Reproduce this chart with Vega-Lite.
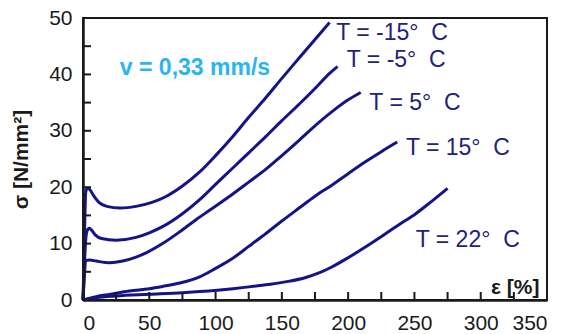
{
  "$schema": "https://vega.github.io/schema/vega-lite/v6.json",
  "width": 464,
  "height": 282,
  "autosize": {"type": "none"},
  "padding": {"left": 83, "top": 18, "right": 14, "bottom": 34},
  "background": "white",
  "config": {
    "view": {"stroke": "#1a1a1a", "strokeWidth": 2},
    "font": "Liberation Sans"
  },
  "datasets": {
    "curves": [
      {"T": "-15", "eps": 0, "sigma": 0},
      {"T": "-15", "eps": 1, "sigma": 10},
      {"T": "-15", "eps": 2, "sigma": 19},
      {"T": "-15", "eps": 3, "sigma": 19.8},
      {"T": "-15", "eps": 5, "sigma": 19.6},
      {"T": "-15", "eps": 8, "sigma": 18.5},
      {"T": "-15", "eps": 12, "sigma": 17.3},
      {"T": "-15", "eps": 18, "sigma": 16.6},
      {"T": "-15", "eps": 28, "sigma": 16.3},
      {"T": "-15", "eps": 40, "sigma": 16.6},
      {"T": "-15", "eps": 52, "sigma": 17.3},
      {"T": "-15", "eps": 63, "sigma": 18.4},
      {"T": "-15", "eps": 75, "sigma": 20.2},
      {"T": "-15", "eps": 88, "sigma": 22.7},
      {"T": "-15", "eps": 100, "sigma": 25.6},
      {"T": "-15", "eps": 113, "sigma": 29},
      {"T": "-15", "eps": 125, "sigma": 32.4},
      {"T": "-15", "eps": 138, "sigma": 35.9},
      {"T": "-15", "eps": 150, "sigma": 39.3},
      {"T": "-15", "eps": 163, "sigma": 42.9},
      {"T": "-15", "eps": 175, "sigma": 46.2},
      {"T": "-15", "eps": 186, "sigma": 49.2},
      {"T": "-5", "eps": 0, "sigma": 0},
      {"T": "-5", "eps": 1, "sigma": 6},
      {"T": "-5", "eps": 2, "sigma": 10.5},
      {"T": "-5", "eps": 3, "sigma": 12.2},
      {"T": "-5", "eps": 4.7, "sigma": 12.7},
      {"T": "-5", "eps": 6, "sigma": 12.5},
      {"T": "-5", "eps": 9, "sigma": 11.6},
      {"T": "-5", "eps": 14, "sigma": 10.9},
      {"T": "-5", "eps": 25, "sigma": 10.6},
      {"T": "-5", "eps": 40, "sigma": 11.1},
      {"T": "-5", "eps": 50, "sigma": 11.9},
      {"T": "-5", "eps": 60, "sigma": 13.0},
      {"T": "-5", "eps": 75, "sigma": 15.3},
      {"T": "-5", "eps": 88, "sigma": 17.8},
      {"T": "-5", "eps": 100, "sigma": 20.5},
      {"T": "-5", "eps": 113, "sigma": 23.4},
      {"T": "-5", "eps": 125, "sigma": 26.1},
      {"T": "-5", "eps": 138, "sigma": 29},
      {"T": "-5", "eps": 150, "sigma": 31.8},
      {"T": "-5", "eps": 163, "sigma": 34.7},
      {"T": "-5", "eps": 175, "sigma": 37.5},
      {"T": "-5", "eps": 186, "sigma": 40.2},
      {"T": "-5", "eps": 192, "sigma": 41.4},
      {"T": "5", "eps": 0, "sigma": 0},
      {"T": "5", "eps": 1, "sigma": 4},
      {"T": "5", "eps": 2, "sigma": 7},
      {"T": "5", "eps": 5, "sigma": 7.1},
      {"T": "5", "eps": 10, "sigma": 6.9},
      {"T": "5", "eps": 20, "sigma": 6.6},
      {"T": "5", "eps": 30, "sigma": 6.9},
      {"T": "5", "eps": 40, "sigma": 7.6},
      {"T": "5", "eps": 48, "sigma": 8.4},
      {"T": "5", "eps": 60, "sigma": 10},
      {"T": "5", "eps": 73, "sigma": 12.1},
      {"T": "5", "eps": 85, "sigma": 14.2},
      {"T": "5", "eps": 96, "sigma": 16},
      {"T": "5", "eps": 113, "sigma": 18.8},
      {"T": "5", "eps": 125, "sigma": 20.9},
      {"T": "5", "eps": 138, "sigma": 23.2},
      {"T": "5", "eps": 150, "sigma": 25.6},
      {"T": "5", "eps": 163, "sigma": 28.3},
      {"T": "5", "eps": 176, "sigma": 31.1},
      {"T": "5", "eps": 190, "sigma": 33.8},
      {"T": "5", "eps": 200, "sigma": 35.5},
      {"T": "5", "eps": 209.5, "sigma": 36.8},
      {"T": "15", "eps": 0, "sigma": 0},
      {"T": "15", "eps": 10, "sigma": 0.6},
      {"T": "15", "eps": 20, "sigma": 1.0},
      {"T": "15", "eps": 35, "sigma": 1.6},
      {"T": "15", "eps": 50, "sigma": 2.0},
      {"T": "15", "eps": 60, "sigma": 2.4},
      {"T": "15", "eps": 73, "sigma": 3.0},
      {"T": "15", "eps": 88, "sigma": 4.1},
      {"T": "15", "eps": 100, "sigma": 5.6},
      {"T": "15", "eps": 113, "sigma": 7.4},
      {"T": "15", "eps": 125, "sigma": 9.5},
      {"T": "15", "eps": 138, "sigma": 11.8},
      {"T": "15", "eps": 150, "sigma": 14},
      {"T": "15", "eps": 163, "sigma": 16.3},
      {"T": "15", "eps": 175, "sigma": 18.4},
      {"T": "15", "eps": 188, "sigma": 20.4},
      {"T": "15", "eps": 200, "sigma": 22.4},
      {"T": "15", "eps": 213, "sigma": 24.5},
      {"T": "15", "eps": 225, "sigma": 26.3},
      {"T": "15", "eps": 237, "sigma": 28},
      {"T": "22", "eps": 0, "sigma": 0},
      {"T": "22", "eps": 10, "sigma": 0.4},
      {"T": "22", "eps": 25, "sigma": 0.7},
      {"T": "22", "eps": 50, "sigma": 1.0},
      {"T": "22", "eps": 75, "sigma": 1.3},
      {"T": "22", "eps": 88, "sigma": 1.5},
      {"T": "22", "eps": 113, "sigma": 2.0},
      {"T": "22", "eps": 138, "sigma": 2.7},
      {"T": "22", "eps": 155, "sigma": 3.3},
      {"T": "22", "eps": 168, "sigma": 4.0},
      {"T": "22", "eps": 178, "sigma": 4.8},
      {"T": "22", "eps": 188, "sigma": 5.9},
      {"T": "22", "eps": 200, "sigma": 7.5},
      {"T": "22", "eps": 213, "sigma": 9.4},
      {"T": "22", "eps": 226, "sigma": 11.4},
      {"T": "22", "eps": 238, "sigma": 13.3},
      {"T": "22", "eps": 251, "sigma": 15.3},
      {"T": "22", "eps": 263, "sigma": 17.5},
      {"T": "22", "eps": 275, "sigma": 19.8}
    ],
    "labels": [
      {"label": "T = -15°\u00a0 C", "eps": 191, "sigma": 47.3},
      {"label": "T = -5°\u00a0 C", "eps": 199, "sigma": 42.6},
      {"label": "T = 5°\u00a0 C", "eps": 216, "sigma": 34.9},
      {"label": "T = 15°\u00a0 C", "eps": 243.6, "sigma": 26.9},
      {"label": "T = 22°\u00a0 C", "eps": 251, "sigma": 10.6}
    ],
    "note": [
      {"label": "v = 0,33 mm/s", "eps": 27.8, "sigma": 41.1}
    ],
    "xticks": [
      {"eps": 25}, {"eps": 50}, {"eps": 75}, {"eps": 100}, {"eps": 125}, {"eps": 150},
      {"eps": 175}, {"eps": 200}, {"eps": 225}, {"eps": 250}, {"eps": 275}, {"eps": 300},
      {"eps": 325}
    ],
    "yticks": [
      {"sigma": 5}, {"sigma": 10}, {"sigma": 15}, {"sigma": 20}, {"sigma": 25},
      {"sigma": 30}, {"sigma": 35}, {"sigma": 40}, {"sigma": 45}
    ]
  },
  "layer": [
    {
      "data": {"name": "curves"},
      "mark": {"type": "line", "color": "#14148a", "strokeWidth": 3, "interpolate": "monotone"},
      "encoding": {
        "x": {
          "field": "eps", "type": "quantitative",
          "scale": {"domain": [0, 350], "nice": false, "zero": true},
          "axis": {
            "values": [0, 50, 100, 150, 200, 250, 300, 350],
            "grid": false,
            "zindex": 1,
            "ticks": false,
            "domainColor": "#1a1a1a",
            "domainWidth": 2.5,
            "labelPadding": 12,
            "labelFontSize": 21,
            "labelColor": "#1a1a1a",
            "labelFlush": 6,
            "title": "ε [%]",
            "titleFontSize": 21,
            "titleFontWeight": "bold",
            "titleColor": "#1a1a1a",
            "titleX": 456,
            "titleY": -7,
            "titleAlign": "right",
            "titleBaseline": "alphabetic"
          }
        },
        "y": {
          "field": "sigma", "type": "quantitative",
          "scale": {"domain": [0, 50], "nice": false},
          "axis": {
            "values": [0, 10, 20, 30, 40, 50],
            "grid": false,
            "zindex": 1,
            "ticks": false,
            "domainColor": "#1a1a1a",
            "domainWidth": 2.5,
            "labelPadding": 11,
            "labelFontSize": 21,
            "labelColor": "#1a1a1a",
            "title": "σ [N/mm²]",
            "titleFontSize": 21,
            "titleFontWeight": "bold",
            "titleColor": "#1a1a1a",
            "titlePadding": 17
          }
        },
        "detail": {"field": "T"}
      }
    },
    {
      "data": {"name": "xticks"},
      "mark": {"type": "tick", "orient": "vertical", "size": 8, "thickness": 2, "color": "#1a1a1a", "opacity": 1, "yOffset": -4},
      "encoding": {
        "x": {"field": "eps", "type": "quantitative"},
        "y": {"datum": 0, "type": "quantitative"}
      }
    },
    {
      "data": {"name": "yticks"},
      "mark": {"type": "tick", "orient": "horizontal", "size": 8, "thickness": 2, "color": "#1a1a1a", "opacity": 1, "xOffset": 4},
      "encoding": {
        "y": {"field": "sigma", "type": "quantitative"},
        "x": {"datum": 0, "type": "quantitative"}
      }
    },
    {
      "data": {"name": "labels"},
      "mark": {"type": "text", "align": "left", "baseline": "middle", "fontSize": 23, "color": "#22227c"},
      "encoding": {
        "x": {"field": "eps", "type": "quantitative"},
        "y": {"field": "sigma", "type": "quantitative"},
        "text": {"field": "label"}
      }
    },
    {
      "data": {"name": "note"},
      "mark": {"type": "text", "align": "left", "baseline": "middle", "fontSize": 23, "fontWeight": "bold", "color": "#2bb4f0"},
      "encoding": {
        "x": {"field": "eps", "type": "quantitative"},
        "y": {"field": "sigma", "type": "quantitative"},
        "text": {"field": "label"}
      }
    }
  ]
}
